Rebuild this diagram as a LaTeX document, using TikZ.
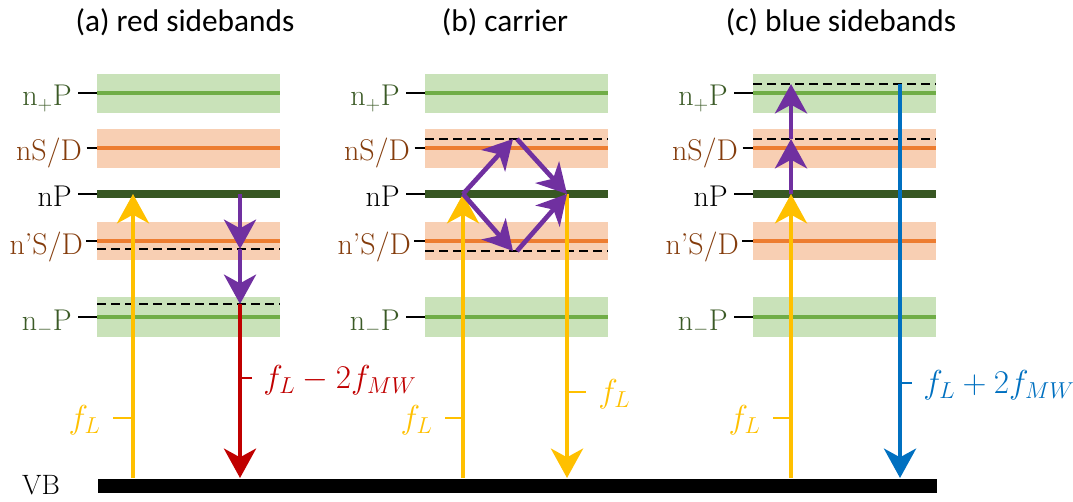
\documentclass[tikz,border=0pt]{standalone}
\usepackage{fontspec}
\newfontfamily\titlefont{Carlito}
\usetikzlibrary{arrows.meta}
\definecolor{gband}{HTML}{C9E2B9}
\definecolor{gline}{HTML}{70AD47}
\definecolor{oband}{HTML}{F8CFB3}
\definecolor{oline}{HTML}{ED7D31}
\definecolor{npcol}{HTML}{385723}
\definecolor{gtext}{HTML}{3B5A26}
\definecolor{otext}{HTML}{843C0C}
\definecolor{yel}{HTML}{FFC000}
\definecolor{pur}{HTML}{7030A0}
\definecolor{redc}{HTML}{C00000}
\definecolor{bluec}{HTML}{0070C0}
\begin{document}
\begin{tikzpicture}[x=0.75pt,y=-0.75pt,
  glevel/.style={gline,line width=3pt},
  olevel/.style={oline,line width=3pt},
  nplevel/.style={npcol,line width=5.5pt},
  dline/.style={black,line width=2.2pt,dash pattern=on 6.5pt off 4pt},
  lvl/.style={inner sep=0pt,anchor=east,text height=19.5pt,text depth=0pt,font=\fontsize{22.5}{25}\selectfont},
  ltick/.style={black,line width=1.3pt},
  arr/.style={line width=3.5pt,-{Stealth[length=22pt,width=24pt,inset=6.5pt]}},
  flab/.style={inner sep=0pt,font=\fontsize{24.5}{27}\selectfont},
  ftick/.style={line width=1.3pt},
  ttl/.style={inner sep=0pt,anchor=base,font=\titlefont\fontsize{23.5}{26}\selectfont}
]
\useasboundingbox (0,0) rectangle (1073,502);

% titles
\node[ttl] (ta) at (185,32) {(a) red sidebands};
\node[ttl] (tb) at (505,32) {(b) carrier};
\node[ttl] (tc) at (841,32) {(c) blue sidebands};

% bands, levels and labels
\foreach \L/\p in {97/a,425/b,753/c}{
  \fill[gband] (\L,74) rectangle ++(183,39);
  \draw[glevel] (\L,93) -- ++(183,0);
  \fill[oband] (\L,129) rectangle ++(183,39);
  \draw[olevel] (\L,148) -- ++(183,0);
  \draw[nplevel] (\L,194) -- ++(183,0);
  \fill[oband] (\L,222) rectangle ++(183,38);
  \draw[olevel] (\L,241) -- ++(183,0);
  \fill[gband] (\L,297) rectangle ++(183,40);
  \draw[glevel] (\L,317) -- ++(183,0);
  \coordinate (\p-b1) at (\L,93);
  \coordinate (\p-b2) at (\L,148);
  \coordinate (\p-b3) at (\L,194);
  \coordinate (\p-b4) at (\L,241);
  \coordinate (\p-b5) at (\L,317);
  \node[lvl,text=gtext] (\p-l1) at (\L-25,93) {n$_+$P};
  \node[lvl,text=otext] (\p-l2) at (\L-15,148) {nS/D};
  \node[lvl,text=black] (\p-l3) at (\L-25,194) {nP};
  \node[lvl,text=otext] (\p-l4) at (\L-14,241) {n’S/D};
  \node[lvl,text=gtext] (\p-l5) at (\L-25,317) {n$_-$P};
  \draw[ltick] ([xshift=4.5pt]\p-l1.east) -- (\p-b1);
  \draw[ltick] ([xshift=3.5pt]\p-l2.east) -- (\p-b2);
  \draw[ltick] ([xshift=4.5pt]\p-l3.east) -- (\p-b3);
  \draw[ltick] ([xshift=2.5pt]\p-l4.east) -- (\p-b4);
  \draw[ltick] ([xshift=4.5pt]\p-l5.east) -- (\p-b5);
}

% dashed virtual levels
\draw[dline] (97,249) -- (280,249);
\draw[dline] (97,304) -- (280,304);
\draw[dline] (425,139) -- (608,139);
\draw[dline] (425,251) -- (608,251);
\draw[dline] (753,84) -- (936,84);
\draw[dline] (753,139) -- (936,139);

% valence band
\fill[black] (98,479) rectangle (937,493);
\node[inner sep=0pt,anchor=base,font=\fontsize{21}{23}\selectfont] (vb) at (41,494) {VB};

% ---------- panel (a)
\coordinate (a-v1) at (133,478);
\coordinate (a-n1) at (133,194);
\coordinate (a-n2) at (240,194);
\coordinate (a-d1) at (240,249);
\coordinate (a-d2) at (240,304);
\coordinate (a-v2) at (240,478);
\draw[arr,yel] (a-v1) -- (a-n1);
\draw[arr,pur] (a-n2) -- (a-d1);
\draw[arr,pur] (a-d1) -- (a-d2);
\draw[arr,redc] (a-d2) -- (a-v2);
\coordinate (a-t1) at (133,418);
\coordinate (a-t2) at (240,378);
\node[flab,text=yel,anchor=east] (a-f1) at (101,420) {$f_L$};
\node[flab,text=redc,anchor=west] (a-f2) at (263,380) {$f_L-2f_{MW}$};
\draw[ftick,yel] ([xshift=9pt]a-f1.east |- a-t1) -- (a-t1);
\draw[ftick,redc] (a-t2) -- ([xshift=-8pt]a-f2.west |- a-t2);

% ---------- panel (b)
\coordinate (b-v1) at (463,478);
\coordinate (b-n1) at (463,194);
\coordinate (b-u1) at (513,139);
\coordinate (b-u2) at (517,139);
\coordinate (b-n2) at (567,194);
\coordinate (b-o1) at (513,251);
\coordinate (b-o2) at (517,251);
\coordinate (b-v2) at (567,478);
\draw[arr,yel] (b-v1) -- (b-n1);
\draw[arr,yel] (b-n2) -- (b-v2);
\draw[arr,pur] (b-n1) -- (b-u1);
\draw[arr,pur] (b-u2) -- (b-n2);
\draw[arr,pur] (b-n1) -- (b-o1);
\draw[arr,pur] (b-o2) -- (b-n2);
\coordinate (b-t1) at (463,418);
\coordinate (b-t2) at (567,392);
\node[flab,text=yel,anchor=east] (b-f1) at (433,420) {$f_L$};
\node[flab,text=yel,anchor=west] (b-f2) at (598,394) {$f_L$};
\draw[ftick,yel] ([xshift=9pt]b-f1.east |- b-t1) -- (b-t1);
\draw[ftick,yel] (b-t2) -- ([xshift=-9pt]b-f2.west |- b-t2);

% ---------- panel (c)
\coordinate (c-v1) at (791,478);
\coordinate (c-n1) at (791,194);
\coordinate (c-d1) at (791,139);
\coordinate (c-d2) at (791,84);
\coordinate (c-s1) at (900,84);
\coordinate (c-v2) at (900,478);
\draw[arr,bluec] (c-s1) -- (c-v2);
\draw[arr,yel] (c-v1) -- (c-n1);
\draw[arr,pur] (c-n1) -- (c-d1);
\draw[arr,pur] (c-d1) -- (c-d2);
\coordinate (c-t1) at (791,418);
\coordinate (c-t2) at (900,383);
\node[flab,text=yel,anchor=east] (c-f1) at (761,420) {$f_L$};
\node[flab,text=bluec,anchor=west] (c-f2) at (923,385) {$f_L+2f_{MW}$};
\draw[ftick,yel] ([xshift=9pt]c-f1.east |- c-t1) -- (c-t1);
\draw[ftick,bluec] (c-t2) -- ([xshift=-8pt]c-f2.west |- c-t2);
\end{tikzpicture}
\end{document}
